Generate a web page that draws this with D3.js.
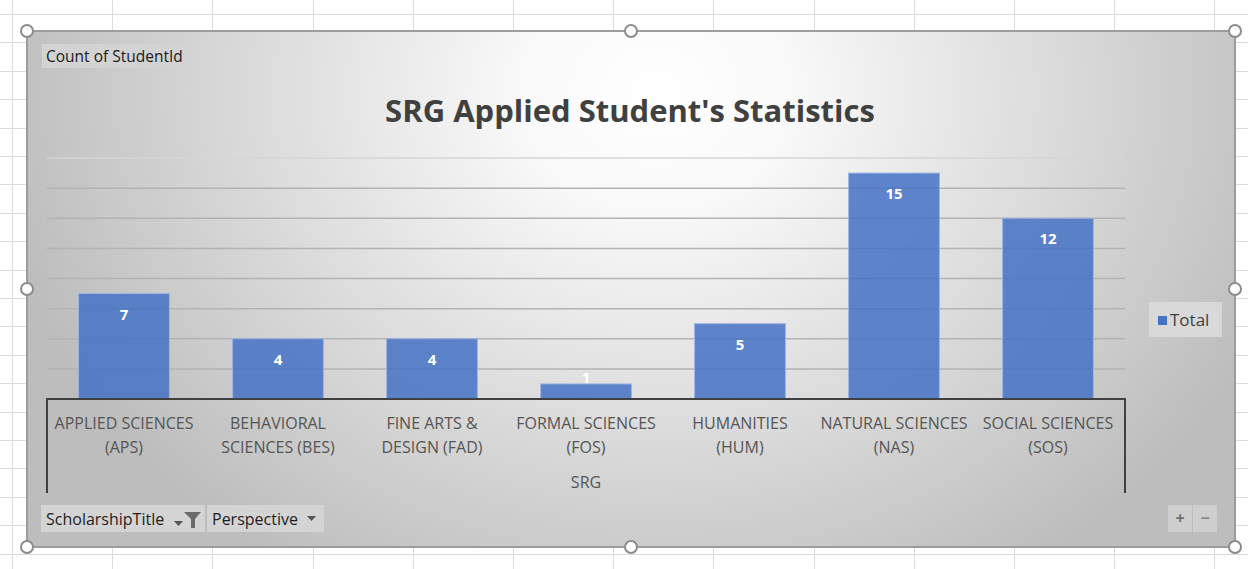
<!DOCTYPE html>
<html>
<head>
<meta charset="utf-8">
<script src="https://cdn.jsdelivr.net/npm/d3@7"></script>
<style>
  body { margin: 0; background: #fff; }
  svg text { font-family: "Open Sans", "Noto Sans", sans-serif; }
</style>
</head>
<body>
<svg id="chart" width="1248" height="569"></svg>
<script>
// Chart values
var codes = ['APS', 'BES', 'FAD', 'FOS', 'HUM', 'NAS', 'SOS'];
var labelTop = ['APPLIED SCIENCES', 'BEHAVIORAL', 'FINE ARTS &', 'FORMAL SCIENCES', 'HUMANITIES', 'NATURAL SCIENCES', 'SOCIAL SCIENCES'];
var labelBottom = ['(APS)', 'SCIENCES (BES)', 'DESIGN (FAD)', '(FOS)', '(HUM)', '(NAS)', '(SOS)'];
var totals = [7, 4, 4, 1, 5, 15, 12];
var seriesName = 'Total';
var chartTitle = "SRG Applied Student's Statistics";
var axisTitle = 'SRG';

var svg = d3.select('#chart');
var W = 1248, H = 569;

// Worksheet cell grid behind the chart object
var grid = svg.append('g').attr('stroke', '#dcdcdc').attr('stroke-width', 1);
d3.range(0, 13).forEach(function (i) {
  var gx = Math.round(12 + i * 100.2) + 0.5;
  grid.append('line').attr('x1', gx).attr('x2', gx).attr('y1', 0).attr('y2', H);
});
d3.range(0, 20).forEach(function (i) {
  var gy = Math.round(14 + i * 28.4) + 0.5;
  grid.append('line').attr('x1', 0).attr('x2', W).attr('y1', gy).attr('y2', gy);
});

// Chart area with grey gradient fill
var frame = {x: 27, y: 31, w: 1208, h: 516};
var defs = svg.append('defs');
var grad = defs.append('radialGradient')
    .attr('id', 'bg')
    .attr('cx', 0.52).attr('cy', 0.12).attr('fx', 0.52).attr('fy', 0.12)
    .attr('r', 0.55)
    .attr('gradientTransform', 'translate(0.52,0.12) scale(1,2) translate(-0.52,-0.12)');
grad.append('stop').attr('offset', '0').attr('stop-color', '#ffffff');
grad.append('stop').attr('offset', '0.2').attr('stop-color', '#f9f9f9');
grad.append('stop').attr('offset', '1').attr('stop-color', '#bdbdbd');

svg.append('rect')
    .attr('x', frame.x).attr('y', frame.y)
    .attr('width', frame.w).attr('height', frame.h)
    .attr('fill', 'url(#bg)')
    .attr('stroke', '#9c9c9c')
    .attr('stroke-width', 2);

// "Count of StudentId" field button
svg.append('rect').attr('x', 42).attr('y', 44).attr('width', 151).attr('height', 24).attr('fill', '#d3d3d3');
svg.append('text').attr('x', 46).attr('y', 62).attr('font-size', 15.5).attr('fill', '#1a1a1a').text('Count of StudentId');

// Title
svg.append('text')
    .attr('x', 630).attr('y', 122)
    .attr('text-anchor', 'middle')
    .attr('font-size', 31).attr('font-weight', 'bold')
    .attr('fill', '#404040')
    .text(chartTitle);

// Scales
var x = d3.scaleBand().domain(codes).range([47, 1125]).paddingInner(0.41).paddingOuter(0.205);
var y = d3.scaleLinear().domain([0, 16]).range([399, 158]);

// Horizontal gridlines
svg.append('g')
    .selectAll('line')
    .data(y.ticks(8).filter(function (t) { return t > 0; }))
    .join('line')
    .attr('x1', 47).attr('x2', 1125)
    .attr('y1', function (d) { return y(d); })
    .attr('y2', function (d) { return y(d); })
    .attr('stroke', function (d) { return d === 16 ? '#d6d6d6' : '#b3b3b3'; })
    .attr('stroke-width', 1.5);

// Bars (semi transparent like the Excel style)
svg.append('g')
    .selectAll('rect')
    .data(totals)
    .join('rect')
    .attr('x', function (d, i) { return x(codes[i]); })
    .attr('y', function (d) { return y(d); })
    .attr('width', x.bandwidth())
    .attr('height', function (d) { return y(0) - y(d); })
    .attr('fill', '#4472c4')
    .attr('fill-opacity', 0.85)
    .attr('stroke', '#9db5e2')
    .attr('stroke-width', 1);

// Data labels, inside end
svg.append('g')
    .selectAll('text')
    .data(totals)
    .join('text')
    .attr('x', function (d, i) { return x(codes[i]) + x.bandwidth() / 2; })
    .attr('y', function (d) { return Math.min(y(d) + 26, y(0) - 16); })
    .attr('text-anchor', 'middle')
    .attr('font-size', 15).attr('font-weight', 'bold')
    .attr('fill', '#ffffff')
    .text(function (d) { return d; });

// Category axis with the multi-level bracket
var axisG = svg.append('g').attr('stroke', '#404040').attr('stroke-width', 2).attr('fill', 'none');
axisG.append('path').attr('d', d3.line()([[47, 493], [47, y(0)], [1125, y(0)], [1125, 493]]));

var cats = svg.append('g').attr('fill', '#555555').attr('font-size', 16).attr('text-anchor', 'middle');
codes.forEach(function (c, i) {
  var cx = x(c) + x.bandwidth() / 2;
  cats.append('text').attr('x', cx).attr('y', 429).text(labelTop[i]);
  cats.append('text').attr('x', cx).attr('y', 453).text(labelBottom[i]);
});
cats.append('text').attr('x', (47 + 1125) / 2).attr('y', 488).text(axisTitle);

// Legend
svg.append('rect').attr('x', 1149).attr('y', 302).attr('width', 73).attr('height', 35).attr('fill', '#d9d9d9');
svg.append('rect').attr('x', 1158).attr('y', 316).attr('width', 9).attr('height', 9).attr('fill', '#4472c4');
svg.append('text').attr('x', 1170).attr('y', 326).attr('font-size', 17).attr('fill', '#404040').text(seriesName);

// Field buttons at the bottom
svg.append('rect').attr('x', 41).attr('y', 505).attr('width', 164).attr('height', 27).attr('fill', '#d4d4d4');
svg.append('text').attr('x', 46).attr('y', 525).attr('font-size', 16).attr('fill', '#1e1e1e').text('ScholarshipTitle');
svg.append('path').attr('d', 'M174,521 L183,521 L178.5,526 Z').attr('fill', '#555');
svg.append('path').attr('d', 'M184,512 L201,512 L195,519 L195,528 L191,528 L191,519 Z').attr('fill', '#6b6b6b');

svg.append('rect').attr('x', 207).attr('y', 505).attr('width', 117).attr('height', 27).attr('fill', '#d4d4d4');
svg.append('text').attr('x', 212).attr('y', 525).attr('font-size', 16).attr('fill', '#1e1e1e').text('Perspective');
svg.append('path').attr('d', 'M307,516 L316,516 L311.5,521 Z').attr('fill', '#555');

// Zoom +/- buttons
svg.append('rect').attr('x', 1168).attr('y', 505).attr('width', 24).attr('height', 27).attr('fill', '#cfcfcf');
svg.append('rect').attr('x', 1193).attr('y', 505).attr('width', 24).attr('height', 27).attr('fill', '#cfcfcf');
svg.append('text').attr('x', 1180).attr('y', 524).attr('text-anchor', 'middle').attr('font-size', 16).attr('font-weight', 'bold').attr('fill', '#707070').text('+');
svg.append('text').attr('x', 1205).attr('y', 524).attr('text-anchor', 'middle').attr('font-size', 16).attr('font-weight', 'bold').attr('fill', '#8a8a8a').text('\u2212');

// Selection handles round the chart object
var handles = [];
[frame.x, frame.x + frame.w / 2, frame.x + frame.w].forEach(function (hx) {
  [frame.y, frame.y + frame.h / 2, frame.y + frame.h].forEach(function (hy) {
    if (!(hx === frame.x + frame.w / 2 && hy === frame.y + frame.h / 2)) {
      handles.push([hx, hy]);
    }
  });
});
svg.append('g')
    .selectAll('circle')
    .data(handles)
    .join('circle')
    .attr('cx', function (d) { return d[0]; })
    .attr('cy', function (d) { return d[1]; })
    .attr('r', 6)
    .attr('fill', '#ffffff')
    .attr('stroke', '#8c8c8c')
    .attr('stroke-width', 2);
</script>
</body>
</html>
